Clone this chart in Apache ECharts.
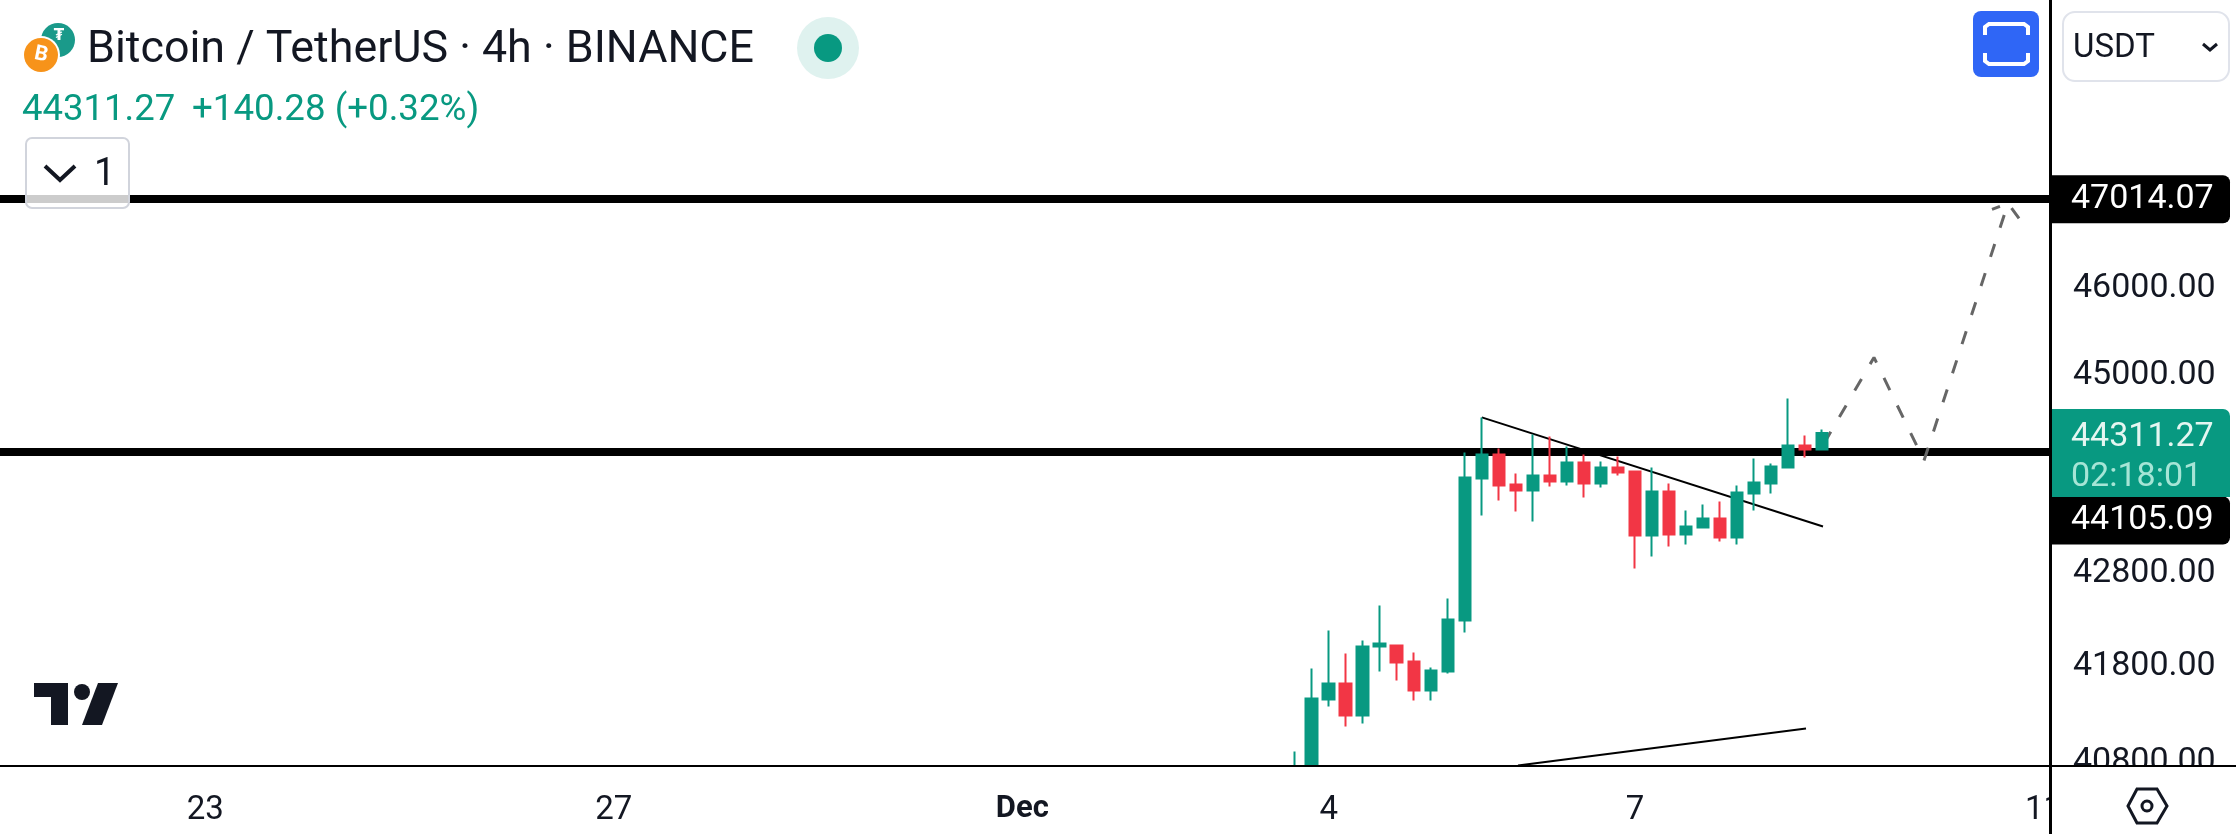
<!DOCTYPE html>
<html>
<head>
<meta charset="utf-8">
<title>BTCUSDT 4h</title>
<script src="https://cdn.jsdelivr.net/npm/echarts@6/dist/echarts.min.js"></script>
<style>
html, body { margin: 0; padding: 0; background: #fff; }
#main { width: 2236px; height: 834px; }
</style>
</head>
<body>
<div id="main"></div>
<script>
var candleTimes = [
	'2023-12-03T16:00Z', '2023-12-03T20:00Z', '2023-12-04T00:00Z', '2023-12-04T04:00Z',
	'2023-12-04T08:00Z', '2023-12-04T12:00Z', '2023-12-04T16:00Z', '2023-12-04T20:00Z',
	'2023-12-05T00:00Z', '2023-12-05T04:00Z', '2023-12-05T08:00Z', '2023-12-05T12:00Z',
	'2023-12-05T16:00Z', '2023-12-05T20:00Z', '2023-12-06T00:00Z', '2023-12-06T04:00Z',
	'2023-12-06T08:00Z', '2023-12-06T12:00Z', '2023-12-06T16:00Z', '2023-12-06T20:00Z',
	'2023-12-07T00:00Z', '2023-12-07T04:00Z', '2023-12-07T08:00Z', '2023-12-07T12:00Z',
	'2023-12-07T16:00Z', '2023-12-07T20:00Z', '2023-12-08T00:00Z', '2023-12-08T04:00Z',
	'2023-12-08T08:00Z', '2023-12-08T12:00Z', '2023-12-08T16:00Z', '2023-12-08T20:00Z'
];
var opens = [40664, 40479, 41420, 41588, 41253, 41979, 41990, 41820, 41515, 41715, 42257, 43804,
	44071, 43738, 43671, 43838, 43771, 43982, 43749, 43927, 43882, 43176, 43660, 43187,
	43264, 43363, 43154, 43638, 43749, 43927, 44172, 44127];
var closes = [40704, 41431, 41588, 41253, 41979, 42011, 41810, 41515, 41725, 42267, 43815, 44071,
	43727, 43671, 43838, 43771, 43982, 43749, 43927, 43871, 43176, 43660, 43187, 43275,
	43363, 43154, 43649, 43760, 43938, 44172, 44127, 44311.27];
var lows = [40430, 40430, 41347, 41138, 41170, 41715, 41620, 41410, 41410, 41694, 42128, 43396,
	43561, 43440, 43330, 43716, 43727, 43594, 43704, 43838, 42817, 42947, 43056, 43078,
	43253, 43111, 43078, 43451, 43638, 43927, 44038, 44127];
var highs = [40879, 41746, 42150, 41905, 42043, 42417, 41990, 41916, 41757, 42493, 44094, 44487,
	44139, 43860, 44295, 44273, 44161, 44071, 43993, 44049, 43894, 43927, 43749, 43451,
	43517, 43550, 43727, 44027, 43971, 44701, 44284, 44352];

var priceTicks = [46000, 45000, 42800, 41800, 40800];
var dateTicks = ['2023-11-23T00:00Z', '2023-11-27T00:00Z', '2023-12-01T00:00Z', '2023-12-04T00:00Z', '2023-12-07T00:00Z', '2023-12-11T00:00Z'];
var dateTickNames = ['23', '27', '{b|Dec}', '4', '7', '11'];

var levelUpper = 47014.07;
var levelLower = 44105.09;
var lastPrice = 44311.27;

var trendDown = [['2023-12-05T12:00Z', 44487], ['2023-12-08T20:11Z', 43275]];
var trendUp = [['2023-12-05T20:30Z', 40735], ['2023-12-08T16:11Z', 41118]];
var projection = [['2023-12-08T20:25Z', 44194], ['2023-12-09T08:10Z', 45168], ['2023-12-09T19:55Z', 44004], ['2023-12-10T15:40Z', 46964]];
var arrowHead = [['2023-12-10T11:54Z', 46893], ['2023-12-10T15:40Z', 46964], ['2023-12-10T18:15Z', 46786]];

var UP = '#089981';
var DOWN = '#F23645';
var INK = '#131722';
var FONT = 'Roboto';

var myChart = echarts.init(document.getElementById('main'));

function ms(list) {
	return list.map(function (p) { return [Date.parse(p[0]), p[1]]; });
}

function drawing(data, lineStyle) {
	return {
		type: 'line',
		data: ms(data),
		symbol: 'none',
		silent: true,
		z: 1,
		lineStyle: lineStyle
	};
}

function tagLabel(text, offsetY) {
	return {
		show: true,
		position: 'end',
		distance: 0,
		offset: [0, offsetY],
		formatter: text,
		color: '#fff',
		fontFamily: FONT,
		fontSize: 34,
		lineHeight: 35,
		width: 159,
		align: 'left',
		padding: [13, 0, 0, 21],
		backgroundColor: '#000',
		borderRadius: [0, 7, 7, 0]
	};
}

var chrome = [
	// hides what runs past the time scale; the price pane part also cuts the "11" label
	{ type: 'rect', z: 8, shape: { x: 0, y: 767, width: 2050, height: 67 }, style: { fill: '#fff' } },
	{ type: 'rect', z: 12, shape: { x: 2052, y: 767, width: 184, height: 67 }, style: { fill: '#fff' } },
	{ type: 'rect', z: 13, shape: { x: 0, y: 765, width: 2236, height: 2 }, style: { fill: '#000' } },
	{ type: 'rect', z: 13, shape: { x: 2049, y: 0, width: 3, height: 834 }, style: { fill: '#000' } },
	// coin icons
	{ type: 'circle', z: 30, shape: { cx: 58, cy: 40, r: 17 }, style: { fill: '#1A9A8A' } },
	{ type: 'text', z: 31, style: { x: 59, y: 36, text: '₮', fill: '#fff', font: 'bold 15px "DejaVu Sans"', align: 'center', verticalAlign: 'middle' } },
	{ type: 'circle', z: 32, shape: { cx: 41, cy: 55, r: 19 }, style: { fill: '#fff' } },
	{ type: 'circle', z: 33, shape: { cx: 41, cy: 55, r: 17 }, style: { fill: '#F7931A' } },
	{ type: 'text', z: 34, rotation: -0.2, x: 41, y: 55, style: { x: 0, y: 0, text: 'B', fill: '#fff', font: 'bold 21px Roboto', align: 'center', verticalAlign: 'middle' } },
	// header texts
	{ type: 'text', z: 30, style: { x: 87, y: 51, text: 'Bitcoin / TetherUS · 4h · BINANCE', fill: INK, font: '44.8px Roboto', verticalAlign: 'middle' } },
	{ type: 'text', z: 30, style: { x: 22, y: 111, text: '44311.27', fill: UP, font: '36.5px Roboto', verticalAlign: 'middle' } },
	{ type: 'text', z: 30, style: { x: 192, y: 111, text: '+140.28 (+0.32%)', fill: UP, font: '36.7px Roboto', verticalAlign: 'middle' } },
	// market status dot
	{ type: 'circle', z: 30, shape: { cx: 828, cy: 48, r: 31 }, style: { fill: '#DFF2EF' } },
	{ type: 'circle', z: 31, shape: { cx: 828, cy: 48, r: 14 }, style: { fill: UP } },
	// collapsed indicators button
	{ type: 'rect', z: 30, shape: { x: 26, y: 138, width: 103, height: 70, r: 6 }, style: { fill: 'rgba(255,255,255,0.8)', stroke: '#D1D4DC', lineWidth: 2 } },
	{ type: 'polyline', z: 31, shape: { points: [[45, 166], [60, 180], [75, 166]] }, style: { fill: 'none', stroke: INK, lineWidth: 4 } },
	{ type: 'text', z: 31, style: { x: 94, y: 175, text: '1', fill: INK, font: '38px Roboto', verticalAlign: 'middle' } },
	// fullscreen button
	{ type: 'rect', z: 30, shape: { x: 1973, y: 11, width: 66, height: 66, r: 8 }, style: { fill: '#2F66F6' } },
	{ type: 'polyline', z: 31, shape: { points: [[1985, 35], [1985, 27], [1989, 24], [2024, 24], [2028, 27], [2028, 35]] }, style: { fill: 'none', stroke: '#fff', lineWidth: 4 } },
	{ type: 'polyline', z: 31, shape: { points: [[1985, 53], [1985, 61], [1989, 64], [2024, 64], [2028, 61], [2028, 53]] }, style: { fill: 'none', stroke: '#fff', lineWidth: 4 } },
	// currency selector
	{ type: 'rect', z: 30, shape: { x: 2063, y: 12, width: 166, height: 69, r: 12 }, style: { fill: '#fff', stroke: '#E0E3EB', lineWidth: 2 } },
	{ type: 'text', z: 31, style: { x: 2073, y: 49, text: 'USDT', fill: INK, font: '33px Roboto', verticalAlign: 'middle' } },
	{ type: 'polyline', z: 31, shape: { points: [[2203, 44], [2210, 50], [2217, 44]] }, style: { fill: 'none', stroke: INK, lineWidth: 3 } },
	// tradingview logo
	{ type: 'polygon', z: 30, shape: { points: [[34, 683], [68, 683], [68, 725], [51, 725], [51, 697], [34, 697]] }, style: { fill: INK } },
	{ type: 'circle', z: 30, shape: { cx: 82, cy: 692, r: 8 }, style: { fill: INK } },
	{ type: 'polygon', z: 30, shape: { points: [[98, 683], [118, 683], [102, 725], [82, 725]] }, style: { fill: INK } },
	// settings hexagon
	{ type: 'polygon', z: 30, shape: { points: [[2128, 806], [2137, 789], [2157, 789], [2167, 806], [2157, 823], [2137, 823]] }, style: { fill: 'none', stroke: INK, lineWidth: 3 } },
	{ type: 'circle', z: 30, shape: { cx: 2147, cy: 806, r: 5 }, style: { fill: 'none', stroke: INK, lineWidth: 3 } }
];

var option = {
	animation: false,
	backgroundColor: '#fff',
	textStyle: { fontFamily: FONT },
	grid: { left: 0, top: 0, width: 2050, height: 766 },
	xAxis: {
		type: 'value',
		min: Date.parse('2023-11-20T23:44Z'),
		max: Date.parse('2023-12-11T01:32Z'),
		z: 10,
		axisLine: { show: false },
		axisTick: { show: false },
		splitLine: { show: false },
		axisLabel: {
			customValues: dateTicks.map(function (d) { return Date.parse(d); }),
			formatter: function (val) {
				var i = dateTicks.findIndex(function (d) { return Date.parse(d) === val; });
				return i < 0 ? '' : dateTickNames[i];
			},
			color: INK,
			fontFamily: FONT,
			fontSize: 33,
			margin: 28,
			hideOverlap: false,
			rich: { b: { fontFamily: FONT, fontSize: 31, fontWeight: 'bold', color: INK } }
		}
	},
	yAxis: {
		type: 'log',
		position: 'right',
		min: 40729,
		max: 49446,
		z: 1,
		axisLine: { show: false },
		axisTick: { show: false },
		splitLine: { show: false },
		axisLabel: {
			customValues: priceTicks,
			formatter: function (val) { return Number(val).toFixed(2); },
			color: INK,
			fontFamily: FONT,
			fontSize: 34,
			margin: 23,
			verticalAlign: 'top',
			lineHeight: 7,
			align: 'left'
		}
	},
	graphic: { elements: chrome },
	series: [
		drawing(projection, { color: '#666', width: 3, type: [13.5, 17.1] }),
		drawing(arrowHead, { color: '#666', width: 3, type: [8.5, 14.5, 14, 100] }),
		{
			type: 'line',
			data: [],
			symbol: 'none',
			silent: true,
			z: 1,
			markLine: {
				z: 1,
				silent: true,
				symbol: 'none',
				animation: false,
				data: [
					{ yAxis: levelUpper, lineStyle: { color: '#000', width: 8, type: 'solid' }, label: tagLabel('47014.07', 0) },
					{ yAxis: levelLower, lineStyle: { color: '#000', width: 8, type: 'solid' }, label: tagLabel('44105.09', 69) },
					{
						yAxis: lastPrice,
						lineStyle: { color: 'transparent', width: 1, type: 'solid' },
						label: {
							show: true,
							position: 'end',
							distance: 0,
							offset: [0, 20],
							formatter: '{p|44311.27}\n{t|02:18:01}',
							width: 159,
							padding: [8, 0, 0, 21],
							backgroundColor: UP,
							borderRadius: [0, 7, 0, 0],
							rich: {
								p: { color: '#E4F6F1', fontFamily: FONT, fontSize: 34, lineHeight: 40 },
								t: { color: '#A6E5D6', fontFamily: FONT, fontSize: 34, lineHeight: 40 }
							}
						}
					}
				]
			}
		},
		drawing(trendDown, { color: '#000', width: 2 }),
		drawing(trendUp, { color: '#000', width: 2 }),
		{
			type: 'candlestick',
			z: 2,
			barWidth: 12,
			silent: true,
			encode: { x: 0, y: [1, 2, 3, 4] },
			itemStyle: {
				color: UP,
				color0: DOWN,
				borderColor: UP,
				borderColor0: DOWN,
				borderWidth: 2
			},
			data: candleTimes.map(function (t, i) {
				return [Date.parse(t), opens[i], closes[i], lows[i], highs[i]];
			})
		}
	]
};

myChart.setOption(option);
</script>
</body>
</html>
